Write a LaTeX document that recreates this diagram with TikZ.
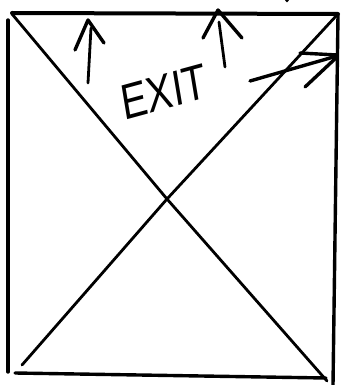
\documentclass[tikz,border=0pt]{standalone}
\usepackage{fontspec}
\newfontfamily\signfont{Liberation Sans}
\begin{document}
\begin{tikzpicture}[x=1pt,y=-1pt,
  pen/.style={line width=3.4pt,line cap=round,line join=round,black},
  thinpen/.style={line width=2.8pt,line cap=round,line join=round,black},
  signtext/.style={font=\signfont\fontsize{50}{50}\selectfont,xscale=0.78,rotate=12,inner sep=0pt}]
\useasboundingbox (0,0) rectangle (341,385);
% frame
\draw[pen,line width=4pt] (12,13) -- (338,14);
\draw[pen] (8,20) -- (8,372);
\draw[pen] (15,373) -- (326,378);
\draw[pen] (338,15) -- (333,385);
% diagonals
\draw[thinpen] (12,14) -- (167,199) -- (327,381);
\draw[thinpen] (337,15) -- (167,199) -- (22,365);
% left arrow
\draw[thinpen] (88,83) -- (91,28);
\draw[pen] (75,50) -- (88,20) -- (104,43);
% middle arrow
\draw[thinpen] (225,67) -- (219,22);
\draw[pen] (203,38) -- (218,10) -- (242,38);
% right arrow
\draw[pen] (250,81) -- (337,56);
\draw[pen] (300,53) -- (337,55);
\draw[pen] (305,87) -- (337,57);
% small mark
\fill (287,0.5) circle (1.8);
% text
\node[signtext] (exit) at (164,92) {EXIT};
\end{tikzpicture}
\end{document}
